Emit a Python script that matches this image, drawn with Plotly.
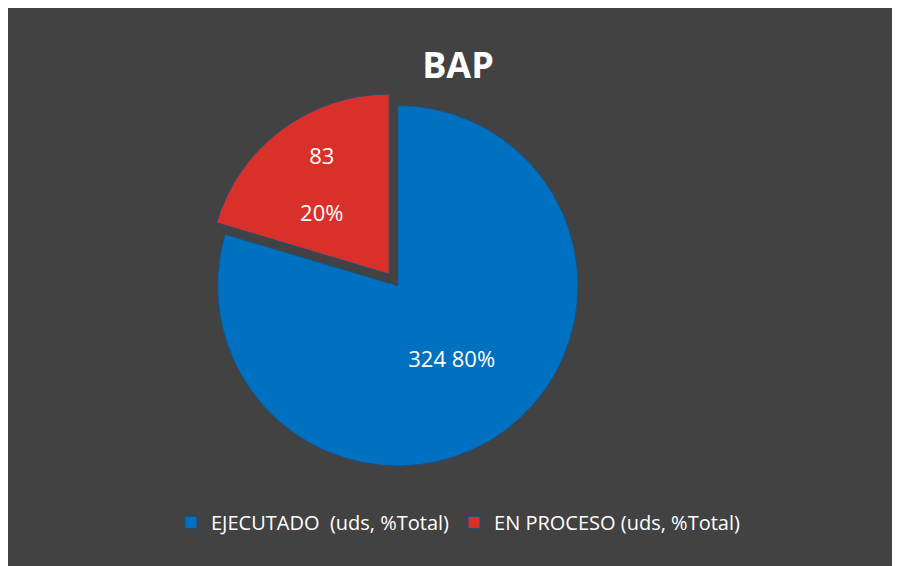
import plotly.graph_objects as go

labels = ["EJECUTADO  (uds, %Total)", "EN PROCESO (uds, %Total)"]
values = [324, 83]
colors = ["#0070C0", "#D9302A"]
text_templates = ["%{value} %{percent:.0%}", "%{value}<br><br>%{percent:.0%}"]

fig = go.Figure(go.Pie(
    labels=labels,
    values=values,
    sort=False,
    direction="clockwise",
    rotation=0,
    pull=[0, 0.08],
    marker=dict(colors=colors, line=dict(color="#1f4f7a", width=1)),
    texttemplate=text_templates,
    textposition="inside",
    insidetextorientation="horizontal",
    textfont=dict(color="white", size=22, family="Open Sans"),
    domain=dict(x=[0.14, 0.72], y=[0.14, 0.88]),
    hoverinfo="label+value+percent",
))

fig.update_layout(
    width=900, height=566,
    paper_bgcolor="#424242",
    plot_bgcolor="#424242",
    margin=dict(l=20, r=20, t=20, b=20),
    title=dict(text="<b>BAP</b>", x=0.5, y=0.92, xanchor="center",
               font=dict(color="white", size=36, family="Open Sans")),
    legend=dict(orientation="h", x=0.5, xanchor="center", y=0.06, yanchor="middle",
                font=dict(color="white", size=20, family="Open Sans")),
)

fig.write_html("out.html")
